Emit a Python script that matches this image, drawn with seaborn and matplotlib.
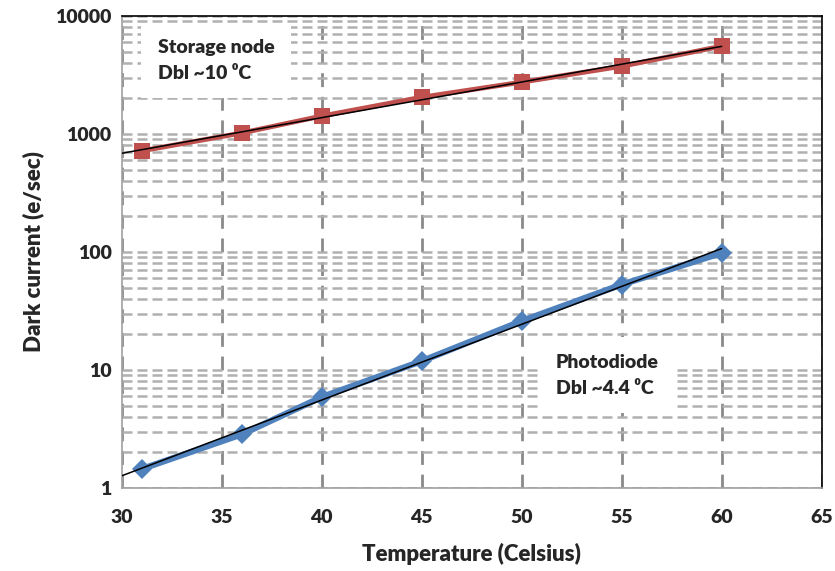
import numpy as np
import pandas as pd
import matplotlib
matplotlib.use("Agg")
import matplotlib.pyplot as plt
import seaborn as sns
from matplotlib.ticker import LogLocator, FixedLocator, NullFormatter, MultipleLocator

# data
temperature = [31, 36, 40, 45, 50, 55, 60]
storage_node = [720, 1020, 1420, 2050, 2750, 3750, 5550]
photodiode = [1.45, 2.85, 5.9, 11.9, 26.0, 53.0, 98]

x_ticks = [30, 35, 40, 45, 50, 55, 60, 65]
y_ticks = [1, 10, 100, 1000, 10000]
y_tick_labels = ["1", "10", "100", "1000", "10000"]

sns.set_theme(style="white")
plt.rcParams['font.family'] = ['Lato', 'DejaVu Sans']
plt.rcParams['font.weight'] = 'heavy'
W = 'heavy'

df = pd.DataFrame({
    'Temperature': temperature * 2,
    'Dark current': storage_node + photodiode,
    'Node': ['Storage node'] * 7 + ['Photodiode'] * 7,
})

fig = plt.figure(figsize=(8.35, 5.71), dpi=100)
ax = fig.add_axes([0.146, 0.1454, 0.838, 0.8266])
ax.set_yscale('log')

sns.lineplot(data=df[df['Node'] == 'Storage node'], x='Temperature', y='Dark current',
             color='#C0504D', lw=3.5, marker='s', markersize=11, markeredgewidth=0,
             ax=ax, zorder=3)
sns.lineplot(data=df[df['Node'] == 'Photodiode'], x='Temperature', y='Dark current',
             color='#4F81BD', lw=4.5, marker='D', markersize=10, markeredgewidth=0,
             ax=ax, zorder=3)

# exponential trend lines (fit in log space)
xs = np.linspace(30, 60, 50)
for vals in (storage_node, photodiode):
    k, b = np.polyfit(temperature, np.log(vals), 1)
    ax.plot(xs, np.exp(b + k * xs), color='black', lw=1.1, zorder=4)

ax.set_xlim(30, 65)
ax.set_ylim(1, 10000)

# grid
ax.yaxis.set_major_locator(FixedLocator(y_ticks))
ax.set_yticklabels(y_tick_labels)
ax.yaxis.set_minor_locator(LogLocator(base=10, subs=np.arange(2, 10)))
ax.yaxis.set_minor_formatter(NullFormatter())
ax.xaxis.set_major_locator(FixedLocator(x_ticks))
ax.xaxis.set_minor_locator(MultipleLocator(1))
ax.grid(axis='y', which='both', color='#b0b0b0', lw=1.8, ls=(0, (4, 2)), zorder=1)
ax.grid(axis='x', which='major', color='#8a8a8a', lw=2, ls=(0, (5, 3.5)), zorder=1)
ax.set_axisbelow(True)

ax.tick_params(axis='both', which='major', labelsize=14, length=5, color='#a0a0a0')
ax.tick_params(axis='x', which='major', direction='inout', length=10, pad=10)
ax.tick_params(axis='x', which='minor', direction='inout', length=5, color='#a0a0a0')
ax.tick_params(axis='y', which='minor', length=0)
ax.tick_params(axis='y', which='major', direction='inout', length=8)
for lab in ax.get_xticklabels() + ax.get_yticklabels():
    lab.set_fontweight(W)

for s in ['top', 'right']:
    ax.spines[s].set_color('black')
    ax.spines[s].set_linewidth(1.2)
for s in ['left', 'bottom']:
    ax.spines[s].set_color('#a0a0a0')
    ax.spines[s].set_linewidth(1.2)

ax.set_xlabel('Temperature (Celsius)', fontsize=16, fontweight=W, labelpad=12)
ax.set_ylabel('Dark current (e/sec)', fontsize=16, fontweight=W, labelpad=8)
ax.legend_ = None

box = dict(facecolor='white', edgecolor='none', pad=12)
ax.text(31.8, 4200, 'Storage node\nDbl ~10 \u2070C', fontsize=14, fontweight=W,
        va='center', ha='left', bbox=box, linespacing=1.6, zorder=2)
ax.text(51.7, 9.0, 'Photodiode\nDbl ~4.4 \u2070C', fontsize=14, fontweight=W,
        va='center', ha='left', bbox=box, linespacing=1.6, zorder=2)

plt.savefig('out.png', dpi=100)
